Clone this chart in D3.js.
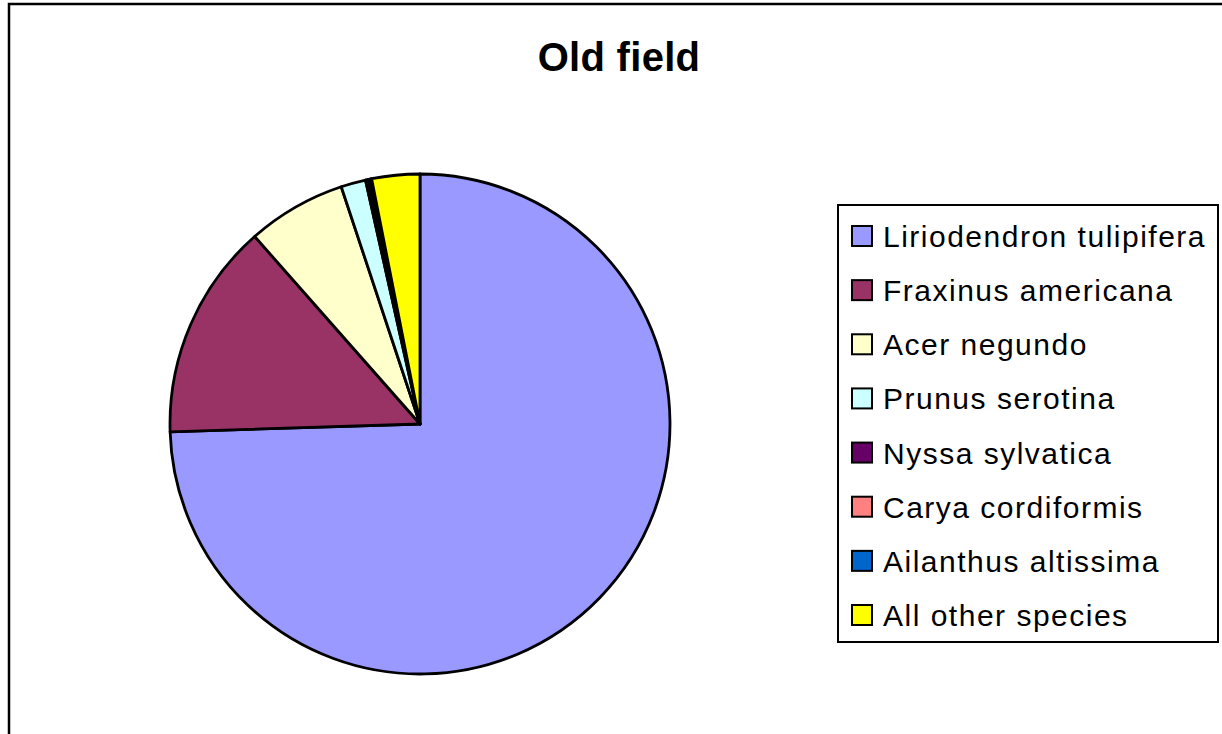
<!DOCTYPE html>
<html>
<head>
<meta charset="utf-8">
<script src="https://cdn.jsdelivr.net/npm/d3@7"></script>
<style>
  body { margin: 0; background: #fff; }
  svg { display: block; font-family: "Liberation Sans", Arial, sans-serif; }
</style>
</head>
<body>
<svg id="chart" width="1222" height="734"></svg>
<script>
// species and their share (percent)
const species = ["Liriodendron tulipifera", "Fraxinus americana", "Acer negundo", "Prunus serotina",
                 "Nyssa sylvatica", "Carya cordiformis", "Ailanthus altissima", "All other species"];
const shares = [74.5, 14.0, 6.4, 1.6, 0.2, 0.1, 0.1, 3.1];
const colors = ["#9999FF", "#993366", "#FFFFCC", "#CCFFFF", "#660066", "#FF8080", "#0066CC", "#FFFF00"];

const svg = d3.select('#chart');

// outer chart frame (runs off right and bottom)
svg.append('rect')
    .attr('x', 9).attr('y', 4)
    .attr('width', 1240).attr('height', 760)
    .style('fill', '#fff')
    .style('stroke', '#000')
    .style('stroke-width', 2.5);

svg.append('text')
    .attr('x', 619).attr('y', 71)
    .attr('text-anchor', 'middle')
    .style('font-size', '40px')
    .style('font-weight', 'bold')
    .style('letter-spacing', '0.3px')
    .text('Old field');

const data = species.map((s, i) => ({ name: s, value: shares[i], color: colors[i] }));

const pie = d3.pie().value(d => d.value).sort(null);
const arc = d3.arc().innerRadius(0).outerRadius(250);

const g = svg.append('g').attr('transform', 'translate(420,424)');
g.selectAll('path')
    .data(pie(data))
    .enter().append('path')
    .attr('d', arc)
    .style('fill', d => d.data.color)
    .style('stroke', '#000')
    .style('stroke-width', 2.8)
    .style('stroke-linejoin', 'round');

// legend
const legend = svg.append('g');
legend.append('rect')
    .attr('x', 838).attr('y', 205)
    .attr('width', 380).attr('height', 437)
    .style('fill', '#fff')
    .style('stroke', '#000')
    .style('stroke-width', 2);

const rowY = d3.scalePoint().domain(species).range([236, 615]);

const item = legend.selectAll('.item')
    .data(data)
    .enter().append('g')
    .attr('class', 'item')
    .attr('transform', d => `translate(0,${rowY(d.name)})`);

item.append('rect')
    .attr('x', 852).attr('y', -10)
    .attr('width', 20).attr('height', 20)
    .style('fill', d => d.color)
    .style('stroke', '#000')
    .style('stroke-width', 2);

item.append('text')
    .attr('x', 883).attr('y', 11)
    .style('font-size', '30px')
    .style('letter-spacing', '1.5px')
    .text(d => d.name);
</script>
</body>
</html>
